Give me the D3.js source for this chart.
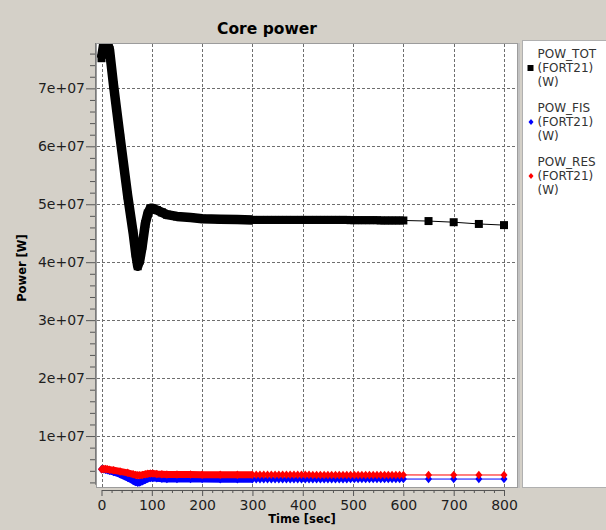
<!DOCTYPE html>
<html>
<head>
<meta charset="utf-8">
<script src="https://cdn.jsdelivr.net/npm/d3@7"></script>
<style>
  html, body { margin: 0; padding: 0; background: #d4d0c8; }
  svg { display: block; }
  text { font-family: "DejaVu Sans", sans-serif; }
</style>
</head>
<body>
<svg id="chart" width="606" height="530"></svg>
<script>
// ---- Core power transient (values in MW, time in s) ----
// Early phase: output written every step, markers merge into a band
const timeEarly = [0, 4, 8, 12, 16, 24, 37, 52, 63, 68, 72, 76, 81, 87, 92, 97, 102, 110, 120, 130, 150, 177, 200, 236, 270, 300];
const totEarly  = [75.2, 77.4, 77.8, 77.8, 76.6, 70.5, 61.5, 51.5, 45.0, 41.5, 39.3, 40.3, 42.8, 46.6, 48.4, 49.3, 49.3, 49.0, 48.6, 48.2, 47.9, 47.7, 47.5, 47.4, 47.35, 47.3];
const fisEarly  = [4.25, 4.25, 4.2, 4.1, 4.0, 3.8, 3.4, 2.8, 2.3, 2.05, 1.95, 2.0, 2.2, 2.45, 2.65, 2.75, 2.75, 2.7, 2.65, 2.6, 2.6, 2.58, 2.57, 2.56, 2.56, 2.55];
const resEarly  = [4.25, 4.3, 4.3, 4.25, 4.2, 4.1, 3.9, 3.65, 3.4, 3.3, 3.25, 3.25, 3.3, 3.4, 3.5, 3.55, 3.55, 3.45, 3.4, 3.35, 3.35, 3.35, 3.33, 3.33, 3.32, 3.32];

// Middle phase: output every 7.5 s
const timeMid = [307.5, 315, 322.5, 330, 337.5, 345, 352.5, 360, 367.5, 375, 382.5, 390, 397.5, 405, 412.5, 420, 427.5, 435, 442.5, 450,
                 457.5, 465, 472.5, 480, 487.5, 495, 502.5, 510, 517.5, 525, 532.5, 540, 547.5, 555, 562.5, 570, 577.5, 585, 592.5, 600];
const totMid  = [47.3, 47.3, 47.3, 47.3, 47.3, 47.3, 47.3, 47.3, 47.3, 47.3, 47.3, 47.3, 47.3, 47.3, 47.3, 47.3, 47.3, 47.3, 47.3, 47.3,
                 47.3, 47.3, 47.3, 47.3, 47.3, 47.25, 47.25, 47.25, 47.25, 47.25, 47.25, 47.25, 47.25, 47.2, 47.2, 47.2, 47.2, 47.2, 47.2, 47.2];
const fisMid  = [2.55, 2.55, 2.55, 2.55, 2.55, 2.55, 2.55, 2.55, 2.55, 2.55, 2.55, 2.55, 2.55, 2.55, 2.55, 2.55, 2.55, 2.55, 2.55, 2.55,
                 2.56, 2.56, 2.56, 2.56, 2.56, 2.57, 2.57, 2.57, 2.57, 2.57, 2.58, 2.58, 2.58, 2.58, 2.58, 2.58, 2.58, 2.58, 2.58, 2.58];
const resMid  = [3.32, 3.32, 3.32, 3.32, 3.32, 3.31, 3.31, 3.31, 3.31, 3.31, 3.31, 3.31, 3.31, 3.31, 3.31, 3.3, 3.3, 3.3, 3.3, 3.3,
                 3.3, 3.3, 3.3, 3.3, 3.3, 3.3, 3.3, 3.3, 3.3, 3.3, 3.29, 3.29, 3.29, 3.29, 3.29, 3.29, 3.29, 3.29, 3.29, 3.29];

// Late phase: output every 50 s
const timeLate = [650, 700, 750, 800];
const totLate  = [47.1, 46.9, 46.6, 46.4];
const fisLate  = [2.58, 2.58, 2.58, 2.58];
const resLate  = [3.28, 3.28, 3.28, 3.28];

const seriesNames  = ["POW_TOT", "POW_FIS", "POW_RES"];
const seriesSource = "(FORT21)";
const seriesUnit   = "(W)";

const xTickValues = [0, 100, 200, 300, 400, 500, 600, 700, 800];
const xTickLabels = ["0", "100", "200", "300", "400", "500", "600", "700", "800"];
const yTickValues = [1e7, 2e7, 3e7, 4e7, 5e7, 6e7, 7e7];
const yTickLabels = ["1e+07", "2e+07", "3e+07", "4e+07", "5e+07", "6e+07", "7e+07"];

const MW = 1e6;

// ---- layout ----
const svg = d3.select("#chart");
const W = 606, H = 530;
const canvas = { x0: 96, y0: 43, x1: 517, y1: 487 };

const x = d3.scaleLinear().domain([0, 800]).range([101.5, 504]);
const y = d3.scaleLinear().domain([0, 7e7]).range([494, 88.35]);

svg.append("rect").attr("width", W).attr("height", H).attr("fill", "#d4d0c8");

// title
svg.append("text")
  .attr("x", 267).attr("y", 34)
  .attr("text-anchor", "middle")
  .attr("font-size", 15.5).attr("font-weight", "bold").attr("fill", "#000")
  .text("Core power");

// plot canvas
svg.append("rect")
  .attr("x", canvas.x0 + 0.5).attr("y", canvas.y0 + 0.5)
  .attr("width", canvas.x1 - canvas.x0).attr("height", canvas.y1 - canvas.y0)
  .attr("fill", "#fff").attr("stroke", "#9c9c9c");
svg.append("line")
  .attr("x1", canvas.x1 + 2).attr("x2", canvas.x1 + 2)
  .attr("y1", canvas.y0).attr("y2", canvas.y1 + 1)
  .attr("stroke", "#c2c2c2").attr("stroke-width", 2);

// grid
const grid = svg.append("g").attr("stroke", "#6e6e6e").attr("stroke-dasharray", "3,2").attr("stroke-width", 1);
grid.selectAll("line.v").data(xTickValues).join("line")
  .attr("x1", d => Math.round(x(d)) + 0.5).attr("x2", d => Math.round(x(d)) + 0.5)
  .attr("y1", canvas.y0 + 1).attr("y2", canvas.y1);
grid.selectAll("line.h").data(yTickValues).join("line")
  .attr("y1", d => Math.round(y(d)) + 0.5).attr("y2", d => Math.round(y(d)) + 0.5)
  .attr("x1", canvas.x0 + 1).attr("x2", canvas.x1);

// series
const clipId = "plotClip";
svg.append("defs").append("clipPath").attr("id", clipId)
  .append("rect")
  .attr("x", canvas.x0 + 1).attr("y", canvas.y0 + 1)
  .attr("width", canvas.x1 - canvas.x0 - 1).attr("height", canvas.y1 - canvas.y0 - 1);

const zip = (ts, vs) => ts.map((t, i) => ({ t, v: vs[i] }));

const squarePath = s => `M${-s / 2},${-s / 2}H${s / 2}V${s / 2}H${-s / 2}Z`;
const diamondPath = (w, h) => `M0,${-h / 2}L${w / 2},0L0,${h / 2}L${-w / 2},0Z`;

const series = [
  { name: seriesNames[0], color: "#000000", band: 9.5, marker: squarePath(8), legendMarker: squarePath(6),
    early: zip(timeEarly, totEarly), mid: zip(timeMid, totMid), late: zip(timeLate, totLate) },
  { name: seriesNames[1], color: "#0000ff", band: 7, marker: diamondPath(7, 8.5), legendMarker: diamondPath(5, 6),
    early: zip(timeEarly, fisEarly), mid: zip(timeMid, fisMid), late: zip(timeLate, fisLate) },
  { name: seriesNames[2], color: "#ff0000", band: 7, marker: diamondPath(7, 8.5), legendMarker: diamondPath(5, 6),
    early: zip(timeEarly, resEarly), mid: zip(timeMid, resMid), late: zip(timeLate, resLate) }
];

const line = d3.line().x(d => x(d.t)).y(d => y(d.v * MW));
const plot = svg.append("g").attr("clip-path", `url(#${clipId})`);

series.forEach(s => {
  const all = s.early.concat(s.mid, s.late);
  const g = plot.append("g");
  // densely written output: markers overlap into a continuous band
  g.append("path").datum(s.early).attr("d", line)
    .attr("fill", "none").attr("stroke", s.color)
    .attr("stroke-width", s.band).attr("stroke-linejoin", "round");
  g.append("path").datum(all).attr("d", line)
    .attr("fill", "none").attr("stroke", s.color).attr("stroke-width", 1);
  g.selectAll("path.mk").data(all).join("path")
    .attr("class", "mk")
    .attr("transform", d => `translate(${x(d.t)},${y(d.v * MW)})`)
    .attr("d", s.marker).attr("fill", s.color);
});

// x axis
const xAxisY = 490;
const xAxis = svg.append("g").attr("transform", `translate(0,${xAxisY})`)
  .call(d3.axisBottom(x).tickValues(xTickValues)
    .tickFormat((d, i) => xTickLabels[i]).tickSizeInner(6).tickSizeOuter(0).tickPadding(4));
xAxis.select(".domain").attr("stroke", "#555");
xAxis.selectAll(".tick line").attr("stroke", "#555");
xAxis.selectAll(".tick text").attr("font-size", 14).attr("fill", "#1e1e1e")
  .attr("font-family", "DejaVu Sans, sans-serif");
const xMinor = d3.range(0, 801, 20).filter(v => v % 100 !== 0);
svg.append("g").attr("transform", `translate(0,${xAxisY})`)
  .call(d3.axisBottom(x).tickValues(xMinor).tickFormat("").tickSizeInner(3).tickSizeOuter(0))
  .call(g => g.select(".domain").remove())
  .selectAll(".tick line").attr("stroke", "#555");

// y axis
const yAxisX = 95;
const yAxis = svg.append("g").attr("transform", `translate(${yAxisX},0)`)
  .call(d3.axisLeft(y).tickValues(yTickValues)
    .tickFormat((d, i) => yTickLabels[i]).tickSizeInner(9).tickSizeOuter(0).tickPadding(1));
yAxis.select(".domain").remove();
yAxis.selectAll(".tick line").attr("stroke", "#555");
yAxis.selectAll(".tick text").attr("font-size", 14).attr("fill", "#1e1e1e")
  .attr("font-family", "DejaVu Sans, sans-serif");
const yMinor = d3.range(2e6, 7.7e7, 2e6).filter(v => Math.round(v / 1e6) % 10 !== 0);
svg.append("g").attr("transform", `translate(${yAxisX},0)`)
  .call(d3.axisLeft(y).tickValues(yMinor).tickFormat("").tickSizeInner(5).tickSizeOuter(0))
  .call(g => g.select(".domain").remove())
  .selectAll(".tick line").attr("stroke", "#555");
svg.append("line")
  .attr("x1", yAxisX + 0.5).attr("x2", yAxisX + 0.5)
  .attr("y1", canvas.y0).attr("y2", y(1.6e6))
  .attr("stroke", "#7a7a7a");

// axis titles
svg.append("text")
  .attr("x", 302).attr("y", 523)
  .attr("text-anchor", "middle")
  .attr("font-size", 11.5).attr("font-weight", "bold").attr("fill", "#000")
  .text("Time [sec]");
svg.append("text")
  .attr("transform", "translate(26,268) rotate(-90)")
  .attr("text-anchor", "middle")
  .attr("font-size", 11.5).attr("font-weight", "bold").attr("fill", "#000")
  .text("Power [W]");

// legend panel
svg.append("rect")
  .attr("x", 522.5).attr("y", 40.5).attr("width", 90).attr("height", 447)
  .attr("fill", "#fff").attr("stroke", "#b0b0b0");

series.forEach((s, i) => {
  const base = 58 + i * 54;
  const lines = [s.name, seriesSource, seriesUnit];
  lines.forEach((txt, j) => {
    svg.append("text")
      .attr("x", 537.5).attr("y", base + j * 14)
      .attr("font-size", 12).attr("fill", "#333")
      .text(txt);
  });
  svg.append("path")
    .attr("transform", `translate(${s.name === seriesNames[0] ? 530.5 : 531},${base + 10})`)
    .attr("d", s.legendMarker).attr("fill", s.color);
});
</script>
</body>
</html>
